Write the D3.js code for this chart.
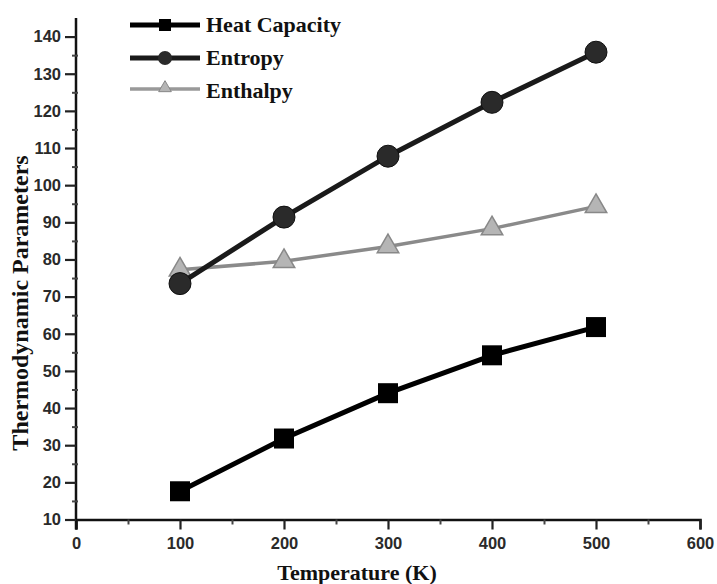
<!DOCTYPE html>
<html><head><meta charset="utf-8">
<script src="https://cdn.jsdelivr.net/npm/d3@7"></script>
<style>body{margin:0;background:#fff}svg{display:block}</style>
</head><body>
<script>
const temps = [100, 200, 300, 400, 500];
const heatCapacity = [17.6, 31.8, 44.0, 54.2, 61.8];
const entropy = [73.5, 91.4, 107.8, 122.3, 135.8];
const enthalpy = [77.2, 79.5, 83.5, 88.3, 94.3];
const seriesNames = ["Heat Capacity", "Entropy", "Enthalpy"];
const xTicks = [0, 100, 200, 300, 400, 500, 600];
const yTicks = [10, 20, 30, 40, 50, 60, 70, 80, 90, 100, 110, 120, 130, 140];

const W = 717, H = 584;
const svg = d3.select("body").append("svg").attr("width", W).attr("height", H);
const x = d3.scaleLinear().domain([0, 600]).range([76, 700]);
const y = d3.scaleLinear().domain([10, 145]).range([519.5, 18]);

const font = "'Liberation Serif', 'Times New Roman', serif";
const tickFont = "'Liberation Sans', Arial, sans-serif";

// X axis
const xAxis = d3.axisBottom(x).tickValues(xTicks).tickSize(10).tickPadding(8).tickFormat(d3.format("d"));
const gx = svg.append("g").attr("transform", `translate(0,${y(10)})`).call(xAxis);
gx.select(".domain").attr("stroke", "#111").attr("stroke-width", 2.5);
gx.selectAll(".tick line").attr("stroke", "#222").attr("stroke-width", 2.2);
gx.selectAll(".tick text").attr("font-family", tickFont).attr("font-weight", "bold").attr("font-size", 16.5).attr("fill", "#2a2a2a");
const gxm = svg.append("g").attr("transform", `translate(0,${y(10)})`)
  .call(d3.axisBottom(x).tickValues(d3.range(50, 600, 100)).tickSize(5).tickFormat(""));
gxm.select(".domain").remove();
gxm.selectAll(".tick line").attr("stroke", "#444").attr("stroke-width", 2);

// Y axis
const yAxis = d3.axisLeft(y).tickValues(yTicks).tickSize(11).tickPadding(4).tickFormat(d3.format("d"));
const gy = svg.append("g").attr("transform", `translate(${x(0)},0)`).call(yAxis);
gy.select(".domain").attr("stroke", "#111").attr("stroke-width", 2.5).attr("d", `M0,${y(145)}V${y(10) + 10}`);
gy.selectAll(".tick line").attr("stroke", "#222").attr("stroke-width", 2.2);
gy.selectAll(".tick text").attr("font-family", tickFont).attr("font-weight", "bold").attr("font-size", 16.5).attr("fill", "#2a2a2a");
const gym = svg.append("g").attr("transform", `translate(${x(0) + 2},0)`)
  .call(d3.axisLeft(y).tickValues(d3.range(15, 145, 10)).tickSize(6).tickFormat(""));
gym.select(".domain").remove();
gym.selectAll(".tick line").attr("stroke", "#444").attr("stroke-width", 2);

// Axis titles
svg.append("text").attr("x", 357).attr("y", 580).attr("text-anchor", "middle")
  .attr("font-family", font).attr("font-weight", "bold").attr("font-size", 22).attr("fill", "#111")
  .text("Temperature (K)");
svg.append("text").attr("transform", "translate(28,303) rotate(-90)").attr("text-anchor", "middle")
  .attr("font-family", font).attr("font-weight", "bold").attr("font-size", 24).attr("fill", "#111")
  .text("Thermodynamic Parameters");

const line = d3.line().x(d => x(d[0])).y(d => y(d[1]));
const zip = vals => temps.map((t, i) => [t, vals[i]]);

// Enthalpy
svg.append("path").datum(zip(enthalpy)).attr("d", line).attr("fill", "none")
  .attr("stroke", "#8a8a8a").attr("stroke-width", 3.5);
const tri = d3.symbol().type(d3.symbolTriangle).size(200);
svg.selectAll(".enth").data(zip(enthalpy)).join("path")
  .attr("transform", d => `translate(${x(d[0])},${y(d[1])})`).attr("d", tri)
  .attr("fill", "#b5b5b5").attr("stroke", "#888").attr("stroke-width", 1.5);

// Entropy
svg.append("path").datum(zip(entropy)).attr("d", line).attr("fill", "none")
  .attr("stroke", "#1a1a1a").attr("stroke-width", 5);
svg.selectAll(".ent").data(zip(entropy)).join("circle")
  .attr("cx", d => x(d[0])).attr("cy", d => y(d[1])).attr("r", 11)
  .attr("fill", "#2a2a2a").attr("stroke", "#111").attr("stroke-width", 1);

// Heat capacity
svg.append("path").datum(zip(heatCapacity)).attr("d", line).attr("fill", "none")
  .attr("stroke", "#000").attr("stroke-width", 5);
svg.selectAll(".hc").data(zip(heatCapacity)).join("rect")
  .attr("x", d => x(d[0]) - 10).attr("y", d => y(d[1]) - 10).attr("width", 20).attr("height", 20)
  .attr("fill", "#000");

// Legend
const legLineY = [25, 58, 89];
const legTextY = [32, 65, 98];
const lg = svg.append("g");
seriesNames.forEach((name, i) => {
  const yy = legLineY[i];
  const col = i === 0 ? "#000" : i === 1 ? "#1a1a1a" : "#999";
  lg.append("line").attr("x1", 130).attr("x2", 200).attr("y1", yy).attr("y2", yy)
    .attr("stroke", col).attr("stroke-width", i === 2 ? 3.5 : 5);
  if (i === 0) lg.append("rect").attr("x", 159).attr("y", yy - 6).attr("width", 12).attr("height", 12).attr("fill", "#000");
  if (i === 1) lg.append("circle").attr("cx", 165).attr("cy", yy).attr("r", 7).attr("fill", "#2a2a2a");
  if (i === 2) lg.append("path").attr("transform", `translate(165,${yy - 1})`)
    .attr("d", d3.symbol().type(d3.symbolTriangle).size(70)).attr("fill", "#b5b5b5").attr("stroke", "#888");
  lg.append("text").attr("x", 206).attr("y", legTextY[i]).attr("font-family", font).attr("font-weight", "bold")
    .attr("font-size", 22).attr("fill", "#111").text(name);
});
</script>
</body></html>
